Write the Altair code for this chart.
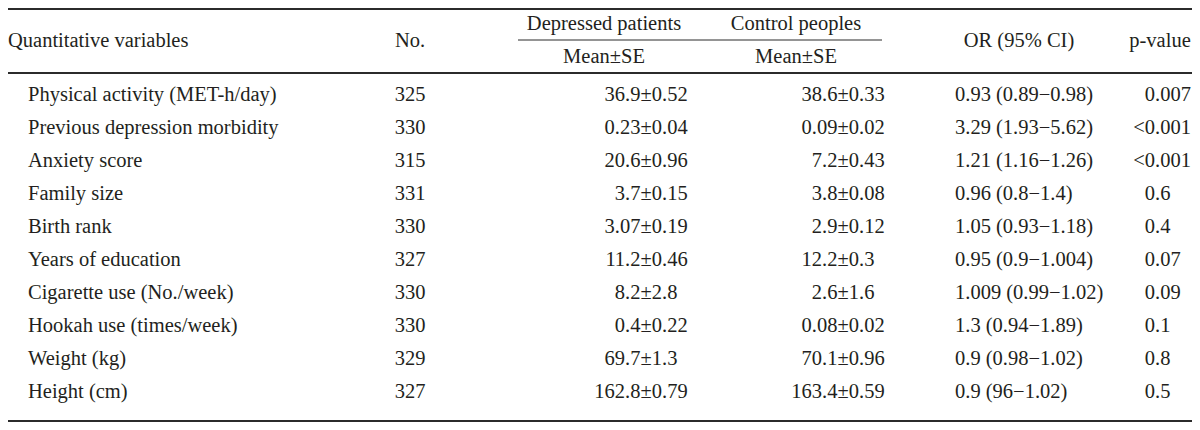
import altair as alt
import pandas as pd

# ---------------- data ----------------
variables = [
    "Physical activity (MET-h/day)",
    "Previous depression morbidity",
    "Anxiety score",
    "Family size",
    "Birth rank",
    "Years of education",
    "Cigarette use (No./week)",
    "Hookah use (times/week)",
    "Weight (kg)",
    "Height (cm)",
]
sample_n = [325, 330, 315, 331, 330, 327, 330, 330, 329, 327]
depressed_mean_se = ["36.9±0.52", "0.23±0.04", "20.6±0.96", "3.7±0.15", "3.07±0.19",
                     "11.2±0.46", "8.2±2.8", "0.4±0.22", "69.7±1.3", "162.8±0.79"]
control_mean_se = ["38.6±0.33", "0.09±0.02", "7.2±0.43", "3.8±0.08", "2.9±0.12",
                   "12.2±0.3", "2.6±1.6", "0.08±0.02", "70.1±0.96", "163.4±0.59"]
odds_ratio_ci = ["0.93 (0.89−0.98)", "3.29 (1.93−5.62)", "1.21 (1.16−1.26)",
                 "0.96 (0.8−1.4)", "1.05 (0.93−1.18)", "0.95 (0.9−1.004)",
                 "1.009 (0.99−1.02)", "1.3 (0.94−1.89)", "0.9 (0.98−1.02)",
                 "0.9 (96−1.02)"]
p_values = ["0.007", "<0.001", "<0.001", "0.6", "0.4", "0.07", "0.09", "0.1", "0.8", "0.5"]

group_headers = ["Depressed patients", "Control peoples"]
sub_headers = ["Mean±SE", "Mean±SE"]
main_headers = ["Quantitative variables", "No.", "OR (95% CI)", "p-value"]

# ---------------- layout (page pixels) ----------------
W, H = 1184, 414
X0, Y0 = 8, 8
ROW0, STEP = 95, 33
FONT = "Liberation Serif"
SIZE = 20.5
INK = "#231f20"
LINE = "#2b2b2b"

COLX = {
    "label": 28, "no": 410,
    "dep": 662, "ctl": 859,
    "or": 955, "p": 1155,
    "h_label": 8, "h_dep": 604, "h_ctl": 796, "h_or": 1019, "h_p": 1160,
}
HEAD_Y = {"group": 24, "main": 41, "sub": 57}
RULES = [  # x-from, x-to, y, width
    (X0, X0 + W, 9, 2),
    (518, 882, 40, 1),
    (X0, X0 + W, 73, 2),
    (X0, X0 + W, 421, 2),
]


def row_of(px):
    return (px - ROW0) / STEP


def split_at(s, first=False):
    i = s.find(".") if first else s.rfind(".")
    if i < 0:
        return s, ""
    return s[:i], s[i:]


recs = []
for i in range(len(variables)):
    recs.append(dict(t=variables[i], x=COLX["label"], row=i, al="left"))
    recs.append(dict(t=str(sample_n[i]), x=COLX["no"], row=i, al="center"))
    a, b = split_at(depressed_mean_se[i])
    recs.append(dict(t=a, x=COLX["dep"], row=i, al="right"))
    recs.append(dict(t=b, x=COLX["dep"], row=i, al="left"))
    a, b = split_at(control_mean_se[i])
    recs.append(dict(t=a, x=COLX["ctl"], row=i, al="right"))
    recs.append(dict(t=b, x=COLX["ctl"], row=i, al="left"))
    recs.append(dict(t=odds_ratio_ci[i], x=COLX["or"], row=i, al="left"))
    a, b = split_at(p_values[i], first=True)
    recs.append(dict(t=a, x=COLX["p"], row=i, al="right"))
    recs.append(dict(t=b, x=COLX["p"], row=i, al="left"))

recs.append(dict(t=main_headers[0], x=COLX["h_label"], row=row_of(HEAD_Y["main"]), al="left"))
recs.append(dict(t=main_headers[1], x=COLX["no"], row=row_of(HEAD_Y["main"]), al="center"))
recs.append(dict(t=main_headers[2], x=COLX["h_or"], row=row_of(HEAD_Y["main"]), al="center"))
recs.append(dict(t=main_headers[3], x=COLX["h_p"], row=row_of(HEAD_Y["main"]), al="center"))
recs.append(dict(t=group_headers[0], x=COLX["h_dep"], row=row_of(HEAD_Y["group"]), al="center"))
recs.append(dict(t=group_headers[1], x=COLX["h_ctl"], row=row_of(HEAD_Y["group"]), al="center"))
recs.append(dict(t=sub_headers[0], x=COLX["h_dep"], row=row_of(HEAD_Y["sub"]), al="center"))
recs.append(dict(t=sub_headers[1], x=COLX["h_ctl"], row=row_of(HEAD_Y["sub"]), al="center"))

cells = pd.DataFrame(recs)
rules = pd.DataFrame([dict(x=a, x2=b, row=row_of(y), w=w) for a, b, y, w in RULES])

xs = alt.Scale(domain=[X0, X0 + W], nice=False, zero=False)
ys = alt.Scale(domain=[row_of(Y0), row_of(Y0 + H)], nice=False, zero=False, reverse=True)

base = alt.Chart(cells)


def text_layer(align):
    return base.transform_filter(alt.datum.al == align).mark_text(
        align=align, baseline="middle", font=FONT, fontSize=SIZE, color=INK
    ).encode(
        x=alt.X("x:Q", scale=xs, axis=None),
        y=alt.Y("row:Q", scale=ys, axis=None),
        text="t:N",
    )


rule_layer = alt.Chart(rules).mark_rule(color=LINE).encode(
    x=alt.X("x:Q", scale=xs, axis=None),
    x2="x2:Q",
    y=alt.Y("row:Q", scale=ys, axis=None),
    strokeWidth=alt.StrokeWidth("w:Q", scale=None, legend=None),
)

chart = alt.layer(
    rule_layer, text_layer("left"), text_layer("center"), text_layer("right")
).properties(
    width=W, height=H, padding=0, background="white",
    autosize=alt.AutoSizeParams(type="none"),
).configure_view(stroke=None)

chart.save("out.html", embed_options={"renderer": "svg", "actions": False})
